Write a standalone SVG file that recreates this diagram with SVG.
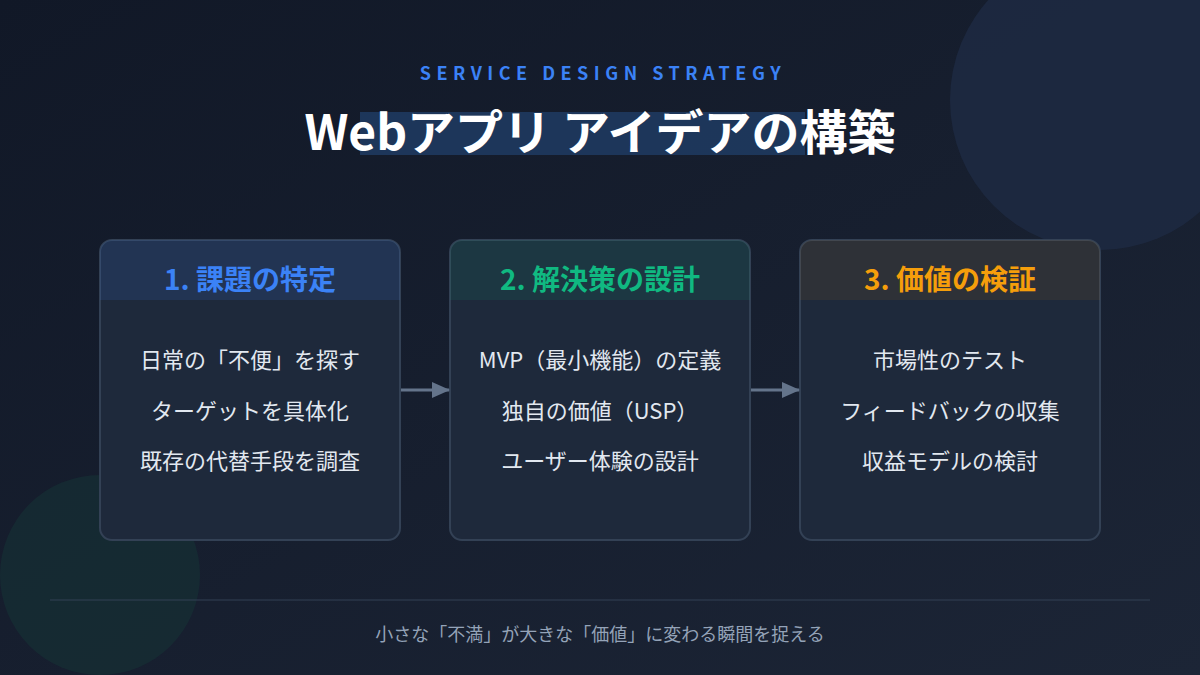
<svg xmlns="http://www.w3.org/2000/svg" width="1200" height="675" viewBox="0 0 1200 675">
<defs>
<linearGradient id="bg" x1="0" y1="0" x2="1" y2="1"><stop offset="0" stop-color="#111827"/><stop offset="1" stop-color="#1c2536"/></linearGradient>
<marker id="ah" markerWidth="18" markerHeight="16" refX="17" refY="8" orient="auto" markerUnits="userSpaceOnUse"><path d="M0,0 L18,8 L0,16 Z" fill="#64748b"/></marker>
<clipPath id="c1"><rect x="100" y="240" width="300" height="300" rx="12"/></clipPath>
<clipPath id="c2"><rect x="450" y="240" width="300" height="300" rx="12"/></clipPath>
<clipPath id="c3"><rect x="800" y="240" width="300" height="300" rx="12"/></clipPath>
</defs>
<style>
text{font-family:"Noto Sans CJK JP","Noto Sans",sans-serif;text-anchor:middle}
.card{fill:#1e293b;stroke:#334155;stroke-width:2}
.h{font-size:28px;font-weight:700}
.b{font-size:22px;fill:#e2e8f0}
.ar{stroke:#64748b;stroke-width:3;fill:none}
</style>
<rect width="1200" height="675" fill="url(#bg)"/>
<circle cx="1100" cy="100" r="150" fill="#1e2a44" opacity="0.8"/>
<circle cx="100" cy="575" r="100" fill="#163236" opacity="0.6"/>
<text x="603" y="80" font-size="18" font-weight="600" fill="#3b82f6" letter-spacing="5.5" font-family="'Noto Sans',sans-serif">SERVICE DESIGN STRATEGY</text>
<rect x="360" y="112" width="445" height="43" fill="#1e3a5f" opacity="0.9"/>
<text x="600" y="150" font-size="48" font-weight="700" fill="#ffffff">Webアプリ アイデアの構築</text>
<g id="card1">
<rect class="card" x="100" y="240" width="300" height="300" rx="12"/>
<rect x="100" y="240" width="300" height="60" fill="#3b82f6" opacity="0.13" clip-path="url(#c1)"/>
<text class="h" x="250" y="290" fill="#3b82f6">1. 課題の特定</text>
<text class="b" x="250" y="368">日常の「不便」を探す</text>
<text class="b" x="250" y="419">ターゲットを具体化</text>
<text class="b" x="250" y="469">既存の代替手段を調査</text>
</g>
<g id="card2">
<rect class="card" x="450" y="240" width="300" height="300" rx="12"/>
<rect x="450" y="240" width="300" height="60" fill="#10b981" opacity="0.1" clip-path="url(#c2)"/>
<text class="h" x="600" y="290" fill="#10b981">2. 解決策の設計</text>
<text class="b" x="600" y="368">MVP（最小機能）の定義</text>
<text class="b" x="600" y="419">独自の価値（USP）</text>
<text class="b" x="600" y="469">ユーザー体験の設計</text>
</g>
<g id="card3">
<rect class="card" x="800" y="240" width="300" height="300" rx="12"/>
<rect x="800" y="240" width="300" height="60" fill="#f59e0b" opacity="0.08" clip-path="url(#c3)"/>
<text class="h" x="950" y="290" fill="#f59e0b">3. 価値の検証</text>
<text class="b" x="950" y="368">市場性のテスト</text>
<text class="b" x="950" y="419">フィードバックの収集</text>
<text class="b" x="950" y="469">収益モデルの検討</text>
</g>
<g id="connectors">
<line class="ar" x1="401" y1="390" x2="449" y2="390" marker-end="url(#ah)"/>
<line class="ar" x1="751" y1="390" x2="799" y2="390" marker-end="url(#ah)"/>
</g>
<line x1="50" y1="600" x2="1150" y2="600" stroke="#334155" stroke-width="1"/>
<text x="600" y="641" font-size="18" fill="#94a3b8">小さな「不満」が大きな「価値」に変わる瞬間を捉える</text>
</svg>
